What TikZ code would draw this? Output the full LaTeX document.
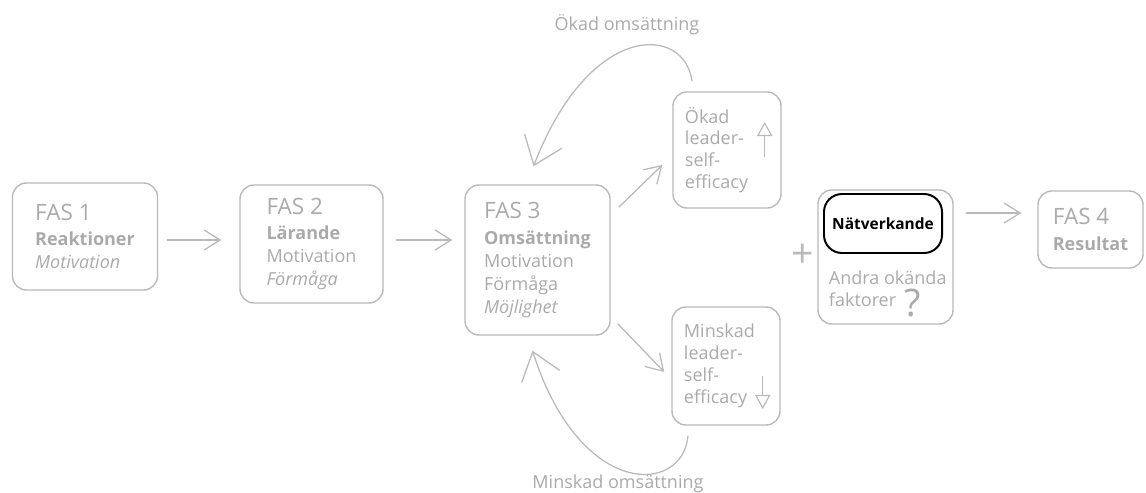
\documentclass[tikz,border=0pt]{standalone}
\usepackage{fontspec}
\setmainfont{Open Sans}
\usetikzlibrary{arrows.meta, calc}
\definecolor{linegray}{RGB}{185,185,185}
\definecolor{textgray}{RGB}{170,170,170}
\tikzset{phase/.style={draw=linegray, line width=1pt, rounded corners=0.35cm, text=textgray, align=left, font=\fontsize{12.8}{16.3}\selectfont}}
\tikzset{effbox/.style={phase, minimum width=2.7cm, text width=2.1cm, inner xsep=0.3cm}}
\tikzset{flow/.style={draw=linegray, line width=0.9pt, -{Straight Barb[length=0.4cm, width=0.5cm]}}}
\tikzset{loopback/.style={draw=linegray, line width=0.9pt, -{Straight Barb[length=0.65cm, width=1cm]}}}
\tikzset{updown/.style={draw=linegray, line width=0.8pt, -{Triangle[open, length=0.35cm, width=0.38cm]}}}
\tikzset{lbl/.style={text=textgray, font=\fontsize{12.8}{14}\selectfont}}
\newcommand{\fasfont}{\fontsize{16}{18}\selectfont}

\begin{document}
\begin{tikzpicture}[x=0.025cm, y=-0.025cm]
  \useasboundingbox (0,0) rectangle (1146,493);
  \coordinate (rowa) at (0,240);
  \coordinate (rowb) at (0,213);
  % faser
  \node[phase, minimum width=3.625cm, minimum height=2.675cm] (fas1) at (85,236.5)
    {{\fasfont FAS 1}\\[2pt]\textbf{Reaktioner}\\\textit{Motivation}};
  \node[phase, minimum width=3.575cm, minimum height=2.95cm] (fas2) at (311.5,244)
    {{\fasfont FAS 2}\\[2pt]\textbf{Lärande}\\Motivation\\\textit{Förmåga}};
  \node[phase, minimum width=3.625cm, minimum height=3.75cm] (fas3) at (537.5,260)
    {{\fasfont FAS 3}\\[2pt]\textbf{Omsättning}\\Motivation\\Förmåga\\\textit{Möjlighet}};
  \node[effbox, minimum height=2.9cm, font=\fontsize{12.8}{15.5}\selectfont] (okad) at (727,150)
    {Ökad\\leader-\\self-\\efficacy};
  \node[effbox, minimum height=2.95cm, font=\fontsize{12.8}{15.5}\selectfont] (minskad) at (726,366)
    {Minskad\\leader-\\self-\\efficacy};
  \node[phase, minimum width=3.375cm, minimum height=3.35cm] (cont) at (885.5,257) {};
  \node[draw=black, line width=1.4pt, rounded corners=0.45cm, minimum width=2.95cm, minimum height=1.475cm,
    font=\fontsize{11}{13}\bfseries] (natv) at (883,223.5) {Nätverkande};
  \node[text=textgray, align=left, anchor=west, font=\fontsize{12.8}{15.5}\selectfont] (andra) at (824,289)
    {Andra okända\\faktorer};
  \node[text=textgray, font=\fontsize{27}{27}\selectfont] (fraga) at (913,303) {?};
  \node[text=linegray, font=\fontsize{28}{28}\selectfont] (plus) at (803,256) {+};
  \node[phase, minimum width=2.625cm, minimum height=1.925cm] (fas4) at (1090.5,229.5)
    {{\fasfont FAS 4}\\[2pt]\textbf{Resultat}};
  % pilar
  \draw[flow, shorten <=0.23cm, shorten >=0.45cm] (fas1.east |- rowa) -- (fas2.west |- rowa);
  \draw[flow, shorten <=0.3cm, shorten >=0.3cm] (fas2.east |- rowa) -- (fas3.west |- rowa);
  \draw[flow, shorten <=0.3cm, shorten >=0.4cm] (cont.east |- rowb) -- (fas4.west |- rowb);
  \draw[flow] ($(fas3.north east)+(8,23)$) -- ($(okad.west)+(-10,15)$);
  \draw[flow] ($(fas3.south east)+(7,-12)$) -- ($(minskad.west)+(-7,6)$);
  \draw[updown] ($(okad.east)+(-17,7)$) -- ($(okad.east)+(-17,-28)$);
  \draw[updown] ($(minskad.east)+(-18,10)$) -- ($(minskad.east)+(-18,43)$);
  \draw[loopback] ($(okad.north)+(-35,-10)$) .. controls (685,25) and (590,20) .. ($(fas3.north)+(-4,-18)$);
  \draw[loopback] ($(minskad.south)+(-38,10)$) .. controls (683,495) and (580,500) .. ($(fas3.south)+(-5,15)$);
  \node[lbl] (okadlbl) at (627,25) {Ökad omsättning};
  \node[lbl] (minsklbl) at (618,484) {Minskad omsättning};
\end{tikzpicture}
\end{document}
